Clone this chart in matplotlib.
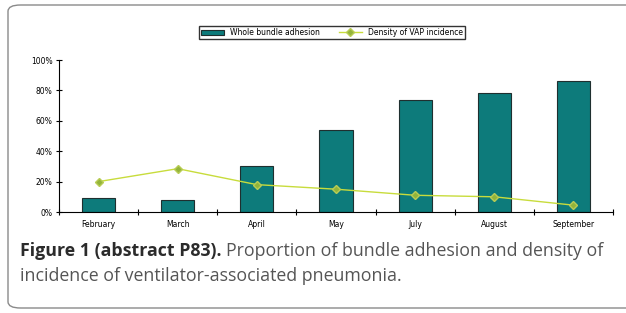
import numpy as np
import matplotlib.pyplot as plt
from matplotlib.patches import FancyBboxPatch
from matplotlib.ticker import FixedLocator

# Datos
meses = ["February", "March", "April", "May", "July", "August", "September"]
adhesion = [9, 8, 30, 54, 74, 78, 86]        # % whole bundle adhesion
densidad = [20, 28.5, 18, 15, 11, 10, 4.5]   # density of VAP incidence

W, H = 626, 313
fig = plt.figure(figsize=(W / 100, H / 100), dpi=100)

# Marco redondeado
marco = FancyBboxPatch((8 / W, 5 / H), (W + 20 - 8) / W, (308 - 5) / H,
                       boxstyle="round,pad=0,rounding_size=0.02",
                       transform=fig.transFigure, fill=False,
                       edgecolor="#8a8a8a", linewidth=1.0, clip_on=False)
fig.patches.append(marco)

ax = fig.add_axes([59 / W, 1 - 212 / H, (613 - 59) / W, (212 - 60) / H])
x = np.arange(len(meses))
barras = ax.bar(x, adhesion, width=0.42, color="#0d7b7b", edgecolor="#1f2f2f",
                linewidth=0.8, label="Whole bundle adhesion", zorder=2)
linea, = ax.plot(x, densidad, color="#c8dc3c", linewidth=1.0, marker="D",
                 markersize=4, markerfacecolor="#93b43a", markeredgecolor="#b8cc55",
                 label="Density of VAP incidence", zorder=3)

ax.set_xlim(-0.5, len(meses) - 0.5)
ax.set_ylim(0, 100)
ax.set_yticks(np.arange(0, 101, 20))
ax.set_yticklabels([f"{v}%" for v in range(0, 101, 20)], fontsize=5.5)
ax.set_xticks(x)
ax.set_xticklabels(meses, fontsize=5.5)
ax.tick_params(axis="x", length=0, pad=6)
ax.xaxis.set_minor_locator(FixedLocator(np.arange(-0.5, len(meses), 1)))
ax.tick_params(axis="x", which="minor", length=4, direction="inout", width=0.8)
ax.tick_params(axis="y", length=5, direction="inout", width=0.8, pad=2)
for s in ["top", "right"]:
    ax.spines[s].set_visible(False)
ax.spines["left"].set_linewidth(0.8)
ax.spines["bottom"].set_linewidth(0.8)

fig.legend(handles=[barras, linea], loc="center",
           bbox_to_anchor=(332 / W, 1 - 32.5 / H), ncol=2,
           fontsize=5.5, frameon=True, fancybox=False, edgecolor="black",
           borderpad=0.3, handlelength=3, columnspacing=2.5, handleheight=0.7)

# Pie de figura
renderer = fig.canvas.get_renderer()
t1 = fig.text(20 / W, 1 - 251 / H, "Figure 1 (abstract P83).", fontsize=12.8,
              fontweight="bold", family="Open Sans", color="#2b2b2b", va="center")
bb = t1.get_window_extent(renderer)
fig.text(bb.x1 / W + 4 / W, 1 - 251 / H,
         "Proportion of bundle adhesion and density of", fontsize=12.8,
         family="Open Sans", color="#555555", va="center")
fig.text(20 / W, 1 - 276 / H, "incidence of ventilator-associated pneumonia.",
         fontsize=12.8, family="Open Sans", color="#555555", va="center")

plt.savefig("out.png", dpi=100)
